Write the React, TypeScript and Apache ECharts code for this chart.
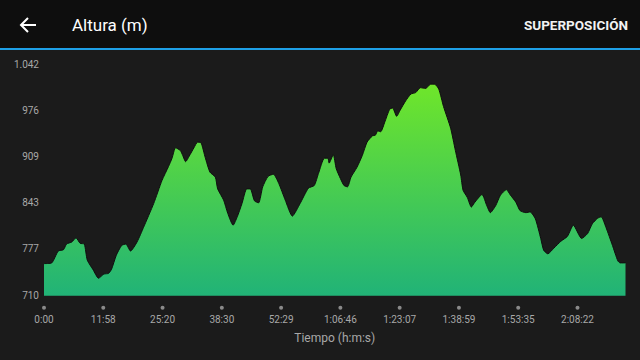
import React, { useEffect, useRef } from "react";
import * as echarts from "echarts";

// Tick labels
const xTickLabels = ["0:00", "11:58", "25:20", "38:30", "52:29", "1:06:46", "1:23:07", "1:38:59", "1:53:35", "2:08:22"];
const yTickValues = [710, 777, 843, 909, 976, 1042];

// Profile: position along the x axis (in tick units) and altitude (m)
const xPos = [
  0.0, 0.13, 0.24, 0.33, 0.38, 0.47, 0.54, 0.61, 0.68, 0.73,
  0.83, 0.92, 1.01, 1.09, 1.14, 1.22, 1.31, 1.38, 1.46, 1.57,
  1.68, 1.85, 1.99, 2.1, 2.16, 2.22, 2.3, 2.34, 2.39, 2.45,
  2.53, 2.59, 2.65, 2.72, 2.8, 2.89, 2.93, 3.03, 3.1, 3.19,
  3.26, 3.34, 3.42, 3.48, 3.55, 3.62, 3.69, 3.78, 3.87, 3.96,
  4.07, 4.19, 4.32, 4.46, 4.56, 4.63, 4.73, 4.79, 4.81, 4.88,
  4.93, 5.0, 5.06, 5.12, 5.18, 5.28, 5.37, 5.45, 5.54, 5.59,
  5.63, 5.68, 5.75, 5.83, 5.88, 5.95, 6.01, 6.1, 6.19, 6.27,
  6.35, 6.44, 6.52, 6.59, 6.66, 6.74, 6.86, 6.94, 7.03, 7.07,
  7.14, 7.21, 7.26, 7.39, 7.47, 7.53, 7.62, 7.7, 7.8, 7.87,
  7.96, 8.03, 8.13, 8.2, 8.29, 8.38, 8.43, 8.5, 8.6, 8.72,
  8.83, 8.93, 9.07, 9.17, 9.25, 9.34, 9.4, 9.48, 9.59, 9.68,
  9.72, 9.81,
];
const altitude = [
  756, 757, 774, 776, 784, 787, 793, 785, 784, 761,
  747, 735, 741, 742, 748, 768, 782, 784, 774, 787,
  808, 842, 875, 895, 907, 922, 918, 911, 902, 910,
  922, 930, 929, 908, 887, 880, 863, 847, 828, 811,
  823, 842, 863, 863, 846, 843, 866, 881, 884, 871,
  847, 824, 842, 864, 868, 885, 907, 907, 900, 912,
  892, 878, 868, 866, 880, 894, 911, 930, 939, 940,
  946, 945, 959, 977, 979, 967, 976, 989, 999, 1001,
  1008, 1007, 1013, 1013, 1006, 981, 950, 918, 883, 861,
  851, 837, 843, 855, 839, 829, 839, 854, 862, 854,
  844, 832, 829, 830, 820, 792, 775, 770, 778, 788,
  795, 811, 792, 799, 813, 821, 823, 808, 782, 760,
  757, 757,
];

const LABEL = "#a8a8a8";
const FONT = "Roboto";

function fmtThousands(v: number): string {
  return String(Math.round(v)).replace(/\B(?=(\d{3})+(?!\d))/g, ".");
}

export default function App() {
  const ref = useRef<HTMLDivElement>(null);
  useEffect(() => {
    document.body.style.margin = "0";
    if (!ref.current) return;
    const chart = echarts.init(ref.current, null, { renderer: "svg" });
    const data = xPos.map((x, i) => [x, altitude[i]]);
    const xIdx = xTickLabels.map((_, i) => i);
    chart.setOption({
      animation: false,
      backgroundColor: "#1b1b1b",
      textStyle: { fontFamily: FONT },
      grid: { left: 44, right: 14.5, top: 64, bottom: 64.3, containLabel: false },
      xAxis: {
        type: "value",
        min: 0,
        max: 9.81,
        axisLine: { show: false },
        axisTick: { show: false },
        splitLine: { show: false },
        axisLabel: {
          customValues: xIdx,
          margin: 8,
          formatter: (v: number) => `{d| }\n{l|${xTickLabels[Math.round(v)] ?? ""}}`,
          rich: {
            d: { width: 4, height: 4, lineHeight: 8, backgroundColor: "#8a8a8a", borderRadius: 2, align: "center" },
            l: { fontSize: 10, lineHeight: 16, color: LABEL, fontFamily: FONT, align: "center" },
          },
        },
        name: "Tiempo (h:m:s)",
        nameLocation: "middle",
        nameGap: 36,
        nameTextStyle: { color: LABEL, fontSize: 12, fontFamily: FONT },
      },
      yAxis: {
        type: "value",
        min: 710,
        max: 1042,
        axisLine: { show: false },
        axisTick: { show: false },
        splitLine: { show: false },
        axisLabel: {
          customValues: yTickValues,
          margin: 5,
          fontSize: 10,
          color: LABEL,
          fontFamily: FONT,
          formatter: (v: number) => fmtThousands(v),
        },
      },
      series: [
        {
          type: "line",
          data,
          symbol: "none",
          smooth: 0.2,
          lineStyle: { color: "#0f0f0f", width: 1 },
          areaStyle: {
            opacity: 1,
            color: new echarts.graphic.LinearGradient(0, 0, 0, 1, [
              { offset: 0, color: "#6fe62a" },
              { offset: 1, color: "#21b377" },
            ]),
          },
        },
      ],
      graphic: [
        { type: "rect", left: 0, top: 0, shape: { width: 640, height: 48 }, style: { fill: "#0e0e0e" }, silent: true },
        { type: "rect", left: 0, top: 48, shape: { width: 640, height: 2 }, style: { fill: "#1ea0e6" }, silent: true },
        { type: "line", shape: { x1: 21, y1: 25, x2: 36, y2: 25 }, style: { stroke: "#ffffff", lineWidth: 2 } },
        { type: "polyline", shape: { points: [[28, 18], [21, 25], [28, 32]] }, style: { stroke: "#ffffff", lineWidth: 2, fill: "none" } },
        {
          type: "text",
          x: 72,
          y: 25,
          style: { text: "Altura (m)", fill: "#ffffff", fontSize: 17, fontFamily: FONT, verticalAlign: "middle" },
        },
        {
          type: "text",
          x: 628,
          y: 25,
          style: {
            text: "SUPERPOSICIÓN",
            fill: "#f2f2f2",
            fontSize: 13.5,
            fontWeight: "bold",
            fontFamily: FONT,
            align: "right",
            verticalAlign: "middle",
          },
        },
      ],
    });
    return () => chart.dispose();
  }, []);
  return <div ref={ref} style={{ position: "absolute", left: 0, top: 0, width: 640, height: 360 }} />;
}
